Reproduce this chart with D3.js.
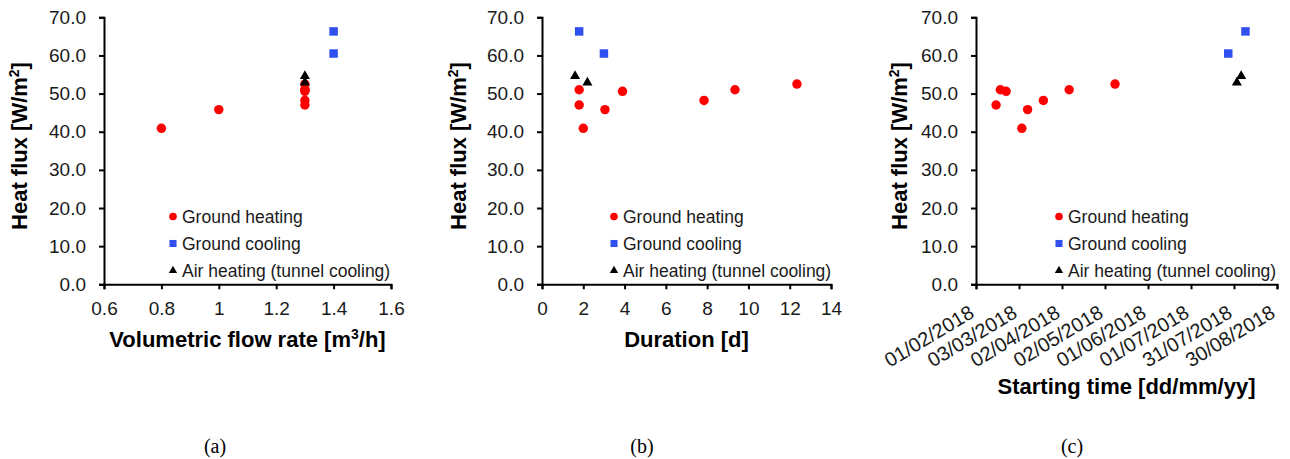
<!DOCTYPE html>
<html>
<head>
<meta charset="utf-8">
<script src="https://cdn.jsdelivr.net/npm/d3@7"></script>
<style>
  body { margin: 0; background: #fff; }
  text { font-family: "Liberation Sans", Arial, sans-serif; fill: #000; }
  .tick text { font-size: 19px; fill: #1a1a1a; }
</style>
</head>
<body>
<svg id="chart" width="1290" height="459"></svg>
<script>
// ---- data ----
var fluxTicks = [0, 10, 20, 30, 40, 50, 60, 70];

// (a) volumetric flow rate
var flowTicks = [0.6, 0.8, 1.0, 1.2, 1.4, 1.6];
var flowHeatX = [0.8, 1.0, 1.3, 1.3, 1.3, 1.3, 1.3, 1.3];
var flowHeatY = [40.9, 45.8, 47.0, 48.2, 50.6, 51.0, 51.1, 52.5];
var flowCoolX = [1.4, 1.4];
var flowCoolY = [66.3, 60.5];
var flowAirX = [1.3, 1.3];
var flowAirY = [54.6, 52.9];

// (b) duration
var durTicks = [0, 2, 4, 6, 8, 10, 12, 14];
var durHeatX = [1.8, 1.8, 2.0, 3.05, 3.9, 7.85, 9.35, 12.35];
var durHeatY = [51.0, 47.0, 40.9, 45.8, 50.6, 48.2, 51.0, 52.5];
var durCoolX = [1.8, 3.0];
var durCoolY = [66.3, 60.5];
var durAirX = [1.6, 2.2];
var durAirY = [54.6, 52.9];

// (c) starting time
var dateTicks = ["01/02/2018", "03/03/2018", "02/04/2018", "02/05/2018",
                 "01/06/2018", "01/07/2018", "31/07/2018", "30/08/2018"];
var startHeatX = ["15/02/2018", "18/02/2018", "22/02/2018", "05/03/2018",
                  "09/03/2018", "20/03/2018", "07/04/2018", "09/05/2018"];
var startHeatY = [47.0, 51.0, 50.6, 40.9, 45.8, 48.2, 51.0, 52.5];
var startCoolX = ["27/07/2018", "08/08/2018"];
var startCoolY = [60.5, 66.3];
var startAirX = ["02/08/2018", "05/08/2018"];
var startAirY = [52.9, 54.6];

var legendNames = ["Ground heating", "Ground cooling", "Air heating (tunnel cooling)"];
var captions = ["(a)", "(b)", "(c)"];

var parseDay = d3.timeParse("%d/%m/%Y");

var svg = d3.select("#chart");
var yTop = 17.3, yBottom = 284.3;

var y = d3.scaleLinear().domain([0, 70]).range([yBottom, yTop]);

var styles = [
  { shape: d3.symbolCircle, size: 70, legendSize: 46, color: "#ff0000" },
  { shape: d3.symbolSquare, size: 72, legendSize: 50, color: "#3050f0" },
  { shape: d3.symbolTriangle, size: 44, legendSize: 30, color: "#000000" }
];

function zip(xs, ys) {
  return xs.map(function(v, i) { return { x: v, y: ys[i] }; });
}

var panels = [
  {
    x0: 104, x1: 391,
    scale: d3.scaleLinear().domain([0.6, 1.6]),
    ticks: flowTicks, fmt: d3.format("~g"),
    series: [zip(flowHeatX, flowHeatY), zip(flowCoolX, flowCoolY), zip(flowAirX, flowAirY)],
    title: ["Volumetric flow rate [m", "3", "/h]"], titleY: 347,
    ylabX: 27, legendX: 173, caption: 215
  },
  {
    x0: 542, x1: 831,
    scale: d3.scaleLinear().domain([0, 14]),
    ticks: durTicks, fmt: d3.format("d"),
    series: [zip(durHeatX, durHeatY), zip(durCoolX, durCoolY), zip(durAirX, durAirY)],
    title: ["Duration [d]", "", ""], titleY: 347,
    ylabX: 466, legendX: 614, caption: 642
  },
  {
    x0: 976, x1: 1277,
    scale: d3.scaleTime().domain([parseDay(dateTicks[0]), parseDay(dateTicks[dateTicks.length - 1])]),
    ticks: dateTicks.map(parseDay), fmt: d3.timeFormat("%d/%m/%Y"), dates: true,
    series: [zip(startHeatX.map(parseDay), startHeatY), zip(startCoolX.map(parseDay), startCoolY),
             zip(startAirX.map(parseDay), startAirY)],
    title: ["Starting time [dd/mm/yy]", "", ""], titleY: 394,
    ylabX: 907, legendX: 1059, caption: 1072
  }
];

panels.forEach(function(p, pi) {
  var x = p.scale.range([p.x0, p.x1]);
  var g = svg.append("g");

  // y axis
  var yAxis = g.append("g")
    .attr("transform", "translate(" + p.x0 + ",0)")
    .call(d3.axisLeft(y).tickValues(fluxTicks).tickFormat(d3.format(".1f"))
      .tickSize(5).tickPadding(13));
  // x axis
  var xAxis = g.append("g")
    .attr("transform", "translate(0," + yBottom + ")")
    .call(d3.axisBottom(x).tickValues(p.ticks).tickFormat(p.fmt)
      .tickSize(5).tickPadding(12));

  yAxis.select(".domain").attr("stroke", "#000").attr("stroke-width", 2);
  xAxis.select(".domain").attr("stroke", "#000").attr("stroke-width", 2);
  yAxis.selectAll(".tick line").attr("stroke", "#000").attr("stroke-width", 2);
  xAxis.selectAll(".tick line").attr("stroke", "#000").attr("stroke-width", 2);

  if (p.dates) {
    xAxis.selectAll(".tick text")
      .attr("text-anchor", "end")
      .attr("dy", 0)
      .attr("y", 0)
      .style("font-size", "20px")
      .attr("transform", "translate(-1,32) rotate(-31)");
  }

  // axis titles
  var t = g.append("text")
    .attr("x", (p.x0 + p.x1) / 2)
    .attr("y", p.titleY)
    .attr("text-anchor", "middle")
    .style("font-size", "22px")
    .style("font-weight", "bold");
  t.append("tspan").text(p.title[0]);
  if (p.title[1]) {
    t.append("tspan").attr("dy", -8).style("font-size", "14px").text(p.title[1]);
    t.append("tspan").attr("dy", 8).text(p.title[2]);
  }

  var yl = g.append("text")
    .attr("transform", "translate(" + p.ylabX + ",146) rotate(-90)")
    .attr("text-anchor", "middle")
    .style("font-size", "22px")
    .style("font-weight", "bold");
  yl.append("tspan").text("Heat flux [W/m");
  yl.append("tspan").attr("dy", -8).style("font-size", "14px").text("2");
  yl.append("tspan").attr("dy", 8).text("]");

  // points
  p.series.forEach(function(s, si) {
    var st = styles[si];
    g.selectAll(null)
      .data(s)
      .enter()
      .append("path")
      .attr("d", d3.symbol().type(st.shape).size(st.size))
      .attr("transform", function(d) { return "translate(" + x(d.x) + "," + y(d.y) + ")"; })
      .attr("fill", st.color);
  });

  // legend
  var leg = g.selectAll(".legend")
    .data(legendNames)
    .enter()
    .append("g")
    .attr("transform", function(d, i) { return "translate(" + p.legendX + "," + (216.5 + i * 27) + ")"; });
  leg.append("path")
    .attr("d", function(d, i) { return d3.symbol().type(styles[i].shape).size(styles[i].legendSize)(); })
    .attr("fill", function(d, i) { return styles[i].color; });
  leg.append("text")
    .attr("x", 9)
    .attr("y", 6)
    .style("font-size", "17.5px")
    .style("fill", "#1a1a1a")
    .text(function(d) { return d; });

  // caption
  svg.append("text")
    .attr("x", p.caption)
    .attr("y", 453)
    .attr("text-anchor", "middle")
    .style("font-family", "'Liberation Serif', 'Times New Roman', serif")
    .style("font-size", "20px")
    .text(captions[pi]);
});
</script>
</body>
</html>
